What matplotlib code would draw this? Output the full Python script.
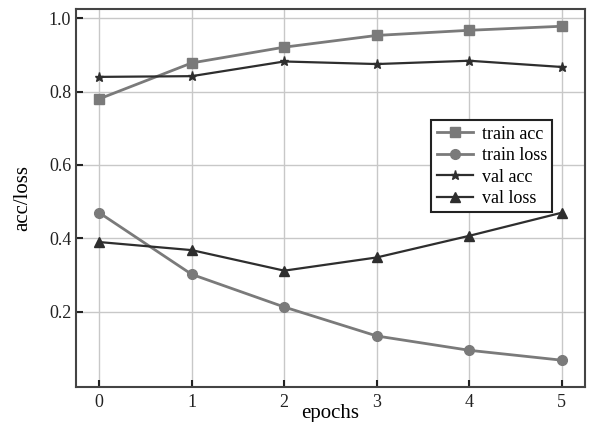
import matplotlib
matplotlib.use('Agg')
import matplotlib.pyplot as plt

plt.rcParams['font.family'] = ['Liberation Serif', 'DejaVu Serif']

epochs = [0, 1, 2, 3, 4, 5]
train_acc = [0.780, 0.878, 0.921, 0.953, 0.967, 0.978]
train_loss = [0.470, 0.302, 0.213, 0.134, 0.095, 0.068]
val_acc = [0.840, 0.842, 0.882, 0.875, 0.884, 0.867]
val_loss = [0.390, 0.368, 0.312, 0.348, 0.407, 0.470]

light = '#7a7a7a'
dark = '#2e2e2e'

fig = plt.figure(figsize=(5.92, 4.22), dpi=100)
ax = fig.add_axes([76 / 592, 35 / 422, 509 / 592, 378 / 422])

ax.plot(epochs, train_acc, color=light, marker='s', markersize=6.5, lw=2.0, label='train acc')
ax.plot(epochs, train_loss, color=light, marker='o', markersize=7, lw=2.0, label='train loss')
ax.plot(epochs, val_acc, color=dark, marker='*', markersize=6.5, lw=1.6, label='val acc')
ax.plot(epochs, val_loss, color=dark, marker='^', markersize=7.5, lw=1.6, label='val loss')

ax.set_xlim(-0.25, 5.25)
ax.set_ylim(-0.005, 1.025)
ax.set_xticks(epochs)
ax.set_yticks([0.2, 0.4, 0.6, 0.8, 1.0])
ax.set_yticklabels(['0.2', '0.4', '0.6', '0.8', '1.0'])
ax.grid(True, color='#c8c8c8', lw=1.0)
ax.set_axisbelow(True)
ax.tick_params(direction='in', length=5, width=1.5, labelsize=13, colors='#222222')
ax.tick_params(axis='x', pad=5)
for s in ax.spines.values():
    s.set_linewidth(1.5)
    s.set_color('#444444')

ax.set_xlabel('epochs', fontsize=15, labelpad=-5)
ax.set_ylabel('acc/loss', fontsize=15, labelpad=12)

leg = ax.legend(loc='upper left', bbox_to_anchor=(0.68, 0.73), fontsize=13,
                fancybox=False, framealpha=1, edgecolor='#222222',
                handlelength=2.0, borderpad=0.3, labelspacing=0.25, handletextpad=0.5)
leg.get_frame().set_linewidth(1.5)

fig.savefig('out.png', dpi=100)
